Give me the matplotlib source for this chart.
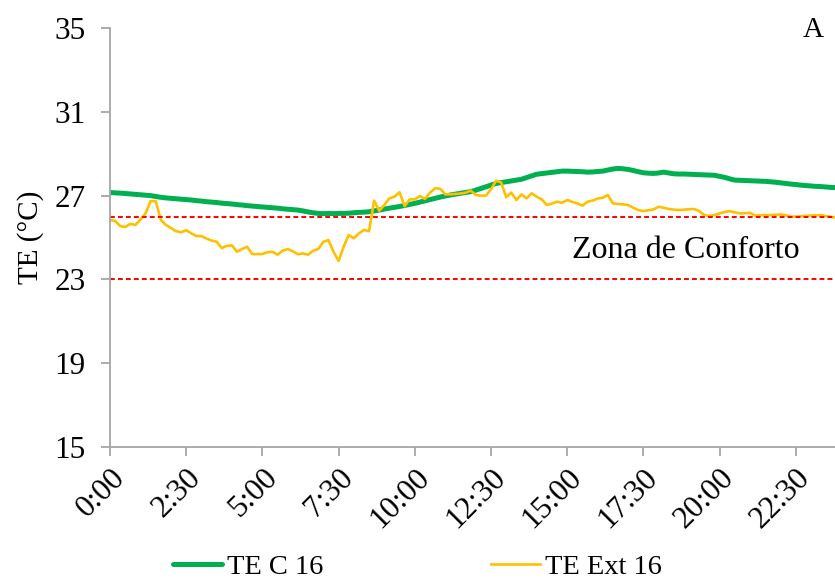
import matplotlib.pyplot as plt
import numpy as np

# 10-minute readings, 0:00 .. 23:50
te_c16 = [27.15, 27.13, 27.12, 27.10, 27.08, 27.06, 27.04, 27.02, 27.00, 26.96, 26.92, 26.89,
          26.87, 26.85, 26.83, 26.81, 26.79, 26.76, 26.74, 26.71,
          26.69, 26.67, 26.64, 26.62, 26.60, 26.57, 26.55,
          26.52, 26.50, 26.48, 26.46, 26.44,
          26.42, 26.40, 26.37, 26.35, 26.33, 26.31,
          26.27, 26.22, 26.18, 26.15,
          26.14, 26.15, 26.14, 26.15, 26.15, 26.16,
          26.18, 26.20, 26.21, 26.23, 26.27, 26.31,
          26.36, 26.40, 26.44, 26.48, 26.53, 26.58, 26.63,
          26.69, 26.75, 26.81, 26.87, 26.93, 26.98,
          27.03, 27.07, 27.11, 27.15, 27.19,
          27.26, 27.34, 27.42, 27.50, 27.58,
          27.62, 27.66, 27.70, 27.74, 27.78,
          27.86, 27.94, 28.02,
          28.05, 28.08, 28.11, 28.14, 28.17,
          28.17, 28.16, 28.15, 28.14, 28.12,
          28.13, 28.15, 28.17, 28.22, 28.27, 28.30,
          28.28, 28.25, 28.20, 28.14, 28.09,
          28.07, 28.06, 28.08, 28.12, 28.08, 28.04,
          28.03, 28.03, 28.02, 28.01, 28.00, 27.99, 27.98,
          27.97, 27.92, 27.87, 27.80, 27.74,
          27.73, 27.72, 27.71, 27.70, 27.69, 27.68, 27.66,
          27.64, 27.61, 27.58, 27.55, 27.53, 27.50,
          27.48, 27.46, 27.44, 27.43, 27.41, 27.39, 27.38]

te_ext16 = [25.83, 25.80, 25.55, 25.50, 25.65, 25.60, 25.85, 26.15, 26.74, 26.74,
            25.85, 25.60, 25.45, 25.30, 25.25, 25.35, 25.20, 25.07, 25.07, 24.95, 24.85, 24.80, 24.50, 24.60,
            24.62, 24.32, 24.45, 24.56, 24.21, 24.21, 24.21, 24.30, 24.32, 24.18, 24.37, 24.45,
            24.34, 24.20, 24.24, 24.18, 24.37, 24.45, 24.79, 24.88, 24.32, 23.88, 24.56, 25.12,
            24.96, 25.20, 25.36, 25.30, 26.76, 26.28, 26.55, 26.87, 26.95, 27.16, 26.50, 26.82,
            26.82, 26.98, 26.84, 27.14, 27.35, 27.33, 27.06, 27.06, 27.08, 27.10, 27.14, 27.24,
            27.03, 27.00, 27.00, 27.30, 27.71, 27.63, 26.92, 27.14, 26.79, 27.06, 26.87, 27.11,
            26.95, 26.82, 26.55, 26.62, 26.71, 26.66, 26.79, 26.70, 26.63, 26.52, 26.71, 26.76,
            26.86, 26.90, 27.03, 26.63, 26.60, 26.58, 26.55, 26.42, 26.31, 26.26, 26.30, 26.34,
            26.47, 26.42, 26.36, 26.33, 26.31, 26.33, 26.35, 26.36, 26.26, 26.07, 26.03, 26.07,
            26.15, 26.22, 26.26, 26.20, 26.15, 26.16, 26.18, 26.05, 26.06, 26.07, 26.07, 26.08,
            26.10, 26.06, 25.99, 26.00, 26.02, 26.03, 26.05, 26.06, 26.07, 26.02, 25.99, 25.94]

times = ["%d:%02d" % (i // 6, (i % 6) * 10) for i in range(144)]
comfort_low = 23
comfort_high = 26

plt.rcParams['font.family'] = ['Liberation Serif', 'DejaVu Serif']
plt.rcParams['font.size'] = 21

fig = plt.figure(figsize=(8.35, 5.81), dpi=100)
ax = fig.add_axes([0.1317, 0.2306, 0.870, 0.7212])

x = np.arange(len(times))
ax.plot(x, te_c16, color='#00b050', lw=3.6, label='TE C 16', solid_capstyle='round')
ax.plot(x, te_ext16, color='#ffc000', lw=1.9, label='TE Ext 16')
ax.axhline(comfort_high, color='#ff0000', lw=1.4, ls=(0, (2.5, 1.6)))
ax.axhline(comfort_low, color='#ff0000', lw=1.4, ls=(0, (2.5, 1.6)))

ax.set_xlim(0, 143)
ax.set_ylim(15, 35)
ax.set_yticks(np.arange(15, 36, 4))
ax.set_xticks(x[::15])
ax.set_xticklabels(times[::15], rotation=45, ha='right', va='top', rotation_mode='anchor')

for s in ['top', 'right']:
    ax.spines[s].set_visible(False)
for s in ['left', 'bottom']:
    ax.spines[s].set_color('#a6a6a6')
    ax.spines[s].set_linewidth(1.3)
ax.tick_params(colors='#a6a6a6', labelcolor='black', length=6.5, width=1.3, labelsize=22.5)
ax.tick_params(axis='y', pad=11)
ax.tick_params(axis='x', pad=5)

ax.set_ylabel('TE (°C)', fontsize=21)
ax.yaxis.label.set_va('center')
ax.yaxis.set_label_coords(-0.11, 0.5)
ax.text(0.6355, 0.47, 'Zona de Conforto', transform=ax.transAxes, fontsize=23, va='center')
fig.text(0.974, 0.948, 'A', ha='center', va='center', fontsize=21)

fig.legend(loc='center', bbox_to_anchor=(0.5, 0.024), ncol=2, frameon=False,
           handlelength=1.7, handletextpad=0.18, columnspacing=5.9, fontsize=20.5)

fig.savefig('out.png', dpi=100)
